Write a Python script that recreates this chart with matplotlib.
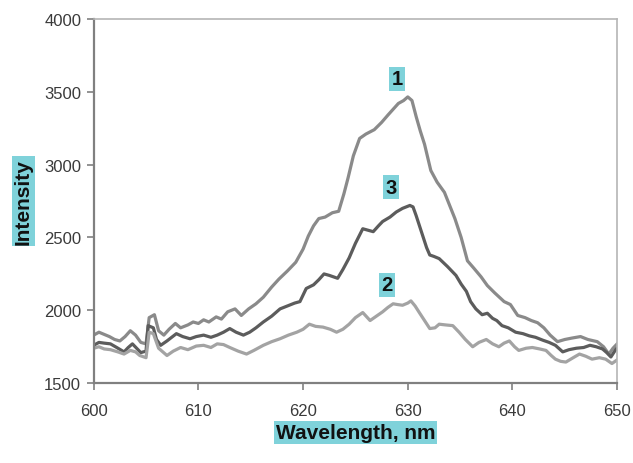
import matplotlib
matplotlib.use("Agg")
import matplotlib.pyplot as plt
import numpy as np

# Curve 1 (upper)
x1 = [600.0, 600.5, 601.0, 601.5, 602.0, 602.5, 603.0, 603.5, 604.0, 604.5, 605.0, 605.3, 605.8,
      606.2, 606.7, 607.2, 607.8, 608.3, 609.0, 609.5, 610.0, 610.5, 611.0, 611.7, 612.2, 612.8,
      613.5, 614.1, 614.8, 615.5, 616.2, 617.0, 617.7, 618.5, 619.3, 620.0, 620.5, 621.0, 621.5,
      622.1, 622.8, 623.4, 623.9, 624.3, 624.8, 625.4, 626.0, 626.8, 627.5, 628.1, 628.6, 629.1,
      629.6, 630.0, 630.4, 630.8, 631.2, 631.6, 632.2, 632.8, 633.5, 634.0, 634.5, 635.1, 635.7,
      636.3, 637.0, 637.6, 638.3, 639.2, 639.8, 640.5, 641.2, 641.8, 642.4, 643.0, 643.6, 644.3,
      645.0, 645.7, 646.5, 647.2, 648.1, 648.7, 649.2, 649.6, 650.0]
y1 = [1830, 1850, 1835, 1820, 1800, 1790, 1820, 1860, 1830, 1780, 1770, 1950, 1970,
      1860, 1830, 1870, 1910, 1880, 1900, 1920, 1910, 1935, 1920, 1955, 1940, 1990,
      2010, 1965, 2010, 2045, 2090, 2160, 2215, 2270, 2330, 2420, 2510, 2580, 2630,
      2640, 2670, 2680, 2800, 2910, 3060, 3180, 3210, 3240, 3290, 3340, 3380, 3420,
      3440, 3465, 3440, 3330, 3230, 3140, 2960, 2880, 2810, 2720, 2630, 2500, 2340,
      2290, 2230, 2170, 2120, 2060, 2040, 1965, 1950, 1930, 1915, 1880, 1830, 1785,
      1800, 1810, 1820, 1800, 1785, 1750, 1700, 1740, 1770]

# Curve 3 (middle)
x3 = [600.0, 600.5, 601.0, 601.6, 602.2, 602.9, 603.3, 603.7, 604.1, 604.5, 605.0, 605.2, 605.7,
      606.0, 606.4, 607.0, 607.9, 608.5, 609.2, 609.8, 610.5, 611.2, 611.8, 612.4, 613.0, 613.6,
      614.3, 614.9, 615.5, 616.2, 617.0, 617.8, 618.5, 619.2, 619.7, 620.3, 621.0, 621.5, 622.0,
      622.5, 623.3, 623.8, 624.4, 625.0, 625.7, 626.2, 626.7, 627.2, 627.6, 628.3, 628.9, 629.5,
      630.2, 630.5, 630.8, 631.3, 631.8, 632.1, 632.5, 633.0, 633.8, 634.6, 635.1, 635.6, 636.0,
      636.5, 637.1, 637.6, 638.1, 638.5, 639.0, 639.6, 640.3, 641.0, 641.6, 642.2, 642.9, 643.5,
      644.1, 644.8, 645.4, 646.1, 646.8, 647.4, 648.0, 648.6, 649.0, 649.4, 649.9, 650.0]
y3 = [1760, 1780, 1775, 1770, 1745, 1715, 1745, 1770, 1740, 1710, 1720, 1895, 1880,
      1800, 1760, 1790, 1840, 1820, 1805, 1820, 1830, 1815, 1830, 1850, 1875, 1850,
      1830, 1850, 1880, 1920, 1960, 2010, 2030, 2050, 2060, 2150, 2175, 2210, 2250,
      2240, 2220, 2280, 2360, 2460, 2560, 2550, 2540, 2580, 2610, 2640, 2675, 2700,
      2720, 2710, 2650, 2540, 2430, 2380, 2370, 2355, 2300, 2240, 2180, 2130, 2060,
      2010, 1970, 1980, 1945, 1930, 1895, 1880, 1850, 1840, 1825, 1815, 1795, 1780,
      1760, 1715, 1730, 1740, 1745, 1760, 1750, 1735, 1710, 1680, 1735, 1740]

# Curve 2 (lower)
x2 = [600.0, 600.5, 601.0, 601.6, 602.3, 602.9, 603.5, 604.0, 604.4, 605.0, 605.3, 605.7, 606.2,
      607.0, 607.6, 608.3, 609.0, 609.8, 610.5, 611.2, 611.8, 612.4, 613.0, 613.8, 614.6, 615.3,
      616.2, 617.0, 617.8, 618.6, 619.4, 620.0, 620.6, 621.2, 621.9, 622.6, 623.2, 623.8, 624.4,
      625.0, 625.7, 626.4, 627.0, 627.6, 628.1, 628.6, 629.0, 629.5, 630.0, 630.3, 630.7, 631.1,
      631.6, 632.1, 632.6, 633.0, 633.6, 634.3, 634.9, 635.5, 636.2, 636.8, 637.5, 638.1, 638.7,
      639.2, 639.7, 640.2, 640.6, 641.3, 641.9, 642.6, 643.2, 643.7, 644.1, 644.6, 645.1, 645.8,
      646.4, 647.0, 647.6, 648.3, 648.9, 649.5, 650.0]
y2 = [1740, 1750, 1735, 1730, 1715, 1700, 1725, 1715, 1690, 1675, 1850, 1840, 1740,
      1690, 1720, 1745, 1730, 1755, 1760, 1745, 1770, 1765, 1745, 1720, 1700, 1725,
      1760, 1785, 1805, 1830, 1850, 1870, 1905, 1890, 1885, 1870, 1850, 1870, 1905,
      1950, 1985, 1930, 1960, 1990, 2020, 2045, 2040, 2035, 2050, 2065, 2030, 1985,
      1930, 1875, 1880, 1905, 1900, 1895, 1850, 1800, 1750, 1780, 1800, 1770, 1750,
      1775, 1790, 1750, 1725, 1740, 1745, 1735, 1725, 1690, 1665, 1650, 1645, 1675,
      1700, 1685, 1665, 1675, 1665, 1635, 1660]

curve_labels = ["1", "2", "3"]
label_x = [629.0, 628.0, 628.4]
label_y = [3590, 2175, 2845]

xticks = [600, 610, 620, 630, 640, 650]
yticks = [1500, 2000, 2500, 3000, 3500, 4000]

plt.rcParams['font.family'] = ['Liberation Sans', 'DejaVu Sans']

fig = plt.figure(figsize=(6.33, 4.64), dpi=100)
ax = fig.add_axes([0.148, 0.172, 0.827, 0.785])

ax.plot(x1, y1, color='#8a8a8a', lw=2.3, solid_joinstyle='round')
ax.plot(x3, y3, color='#5c5c5c', lw=2.3, solid_joinstyle='round')
ax.plot(x2, y2, color='#a3a3a3', lw=2.3, solid_joinstyle='round')

box = dict(boxstyle='square,pad=0.12', facecolor='#7fd2da', edgecolor='none')
for t, lx, ly in zip(curve_labels, label_x, label_y):
    ax.text(lx, ly, t, ha='center', va='center', fontsize=14.5, fontweight='bold',
            color='#111111', bbox=box)

ax.set_xlim(600, 650)
ax.set_ylim(1500, 4000)
ax.set_xticks(xticks)
ax.set_yticks(yticks)
ax.tick_params(axis='both', direction='out', length=5, width=1.2, color='#808080',
               labelsize=12, labelcolor='#3a3a3a', pad=4)
ax.tick_params(axis='x', pad=9)

for s in ['left', 'bottom']:
    ax.spines[s].set_color('#808080')
    ax.spines[s].set_linewidth(1.6)
for s in ['top', 'right']:
    ax.spines[s].set_color('#b5b5b5')
    ax.spines[s].set_linewidth(1.2)

lbox = dict(boxstyle='square,pad=0.1', facecolor='#7fd2da', edgecolor='none')
ax.set_xlabel('Wavelength, nm', fontsize=15, fontweight='bold', bbox=lbox, labelpad=4,
              color='#111111')
ax.set_ylabel('Intensity', fontsize=15, fontweight='bold', bbox=lbox, labelpad=8,
              color='#111111')

fig.savefig('out.png', dpi=100)
